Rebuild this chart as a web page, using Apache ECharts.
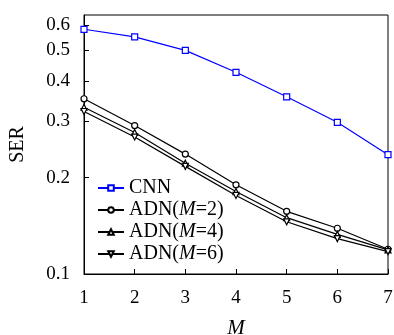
<!DOCTYPE html>
<html><head><meta charset="utf-8">
<script src="https://cdn.jsdelivr.net/npm/echarts@6/dist/echarts.min.js"></script>
<style>html,body{margin:0;padding:0;background:#fff}#c{width:394px;height:335px}</style>
</head><body><div id="c"></div>
<script>
var xValues = [1, 2, 3, 4, 5, 6, 7];
var cnn  = [0.582, 0.551, 0.500, 0.427, 0.358, 0.298, 0.236];
var adn2 = [0.353, 0.291, 0.237, 0.190, 0.157, 0.139, 0.1195];
var adn4 = [0.332, 0.277, 0.222, 0.181, 0.150, 0.133, 0.119];
var adn6 = [0.322, 0.268, 0.217, 0.176, 0.1456, 0.129, 0.1175];
var yTicks = [0.1, 0.2, 0.3, 0.4, 0.5, 0.6];
var names = ['CNN', 'ADN(M=2)', 'ADN(M=4)', 'ADN(M=6)'];

var font = 'Liberation Serif';
function pts(arr){ return arr.map(function(v,i){ return [xValues[i], v]; }); }
function mk(name, arr, color, symbol, rot){
  return {
    name: name, type: 'line', data: pts(arr),
    symbol: symbol, symbolSize: 6, symbolRotate: rot || 0,
    lineStyle: {color: color, width: 1.2},
    itemStyle: {color: '#fff', borderColor: color, borderWidth: 1.2},
    emphasis: {disabled: true}, animation: false
  };
}
var chart = echarts.init(document.getElementById('c'));
chart.setOption({
  animation: false,
  grid: {left: 84, right: 6, top: 15, bottom: 61, show: true, borderColor: '#000', borderWidth: 1,
         containLabel: false, outerBoundsMode: 'none'},
  xAxis: {
    type: 'value', min: 1, max: 7, interval: 1,
    name: 'M', nameLocation: 'middle', nameGap: 44,
    nameTextStyle: {fontFamily: font, fontSize: 21, fontStyle: 'italic', color: '#000'},
    axisLine: {lineStyle: {color: '#000'}},
    axisTick: {inside: true, length: 5, lineStyle: {color: '#000'}},
    axisLabel: {fontFamily: font, fontSize: 19, color: '#000', margin: 15},
    splitLine: {show: false}
  },
  yAxis: {
    type: 'log', logBase: 10, min: 0.1, max: 0.645,
    name: 'SER', nameLocation: 'middle', nameGap: 56, nameRotate: 90,
    nameTextStyle: {fontFamily: font, fontSize: 20, color: '#000'},
    axisLine: {lineStyle: {color: '#000'}},
    axisTick: {inside: true, length: 5, customValues: yTicks, lineStyle: {color: '#000'}},
    axisLabel: {fontFamily: font, fontSize: 19, color: '#000', margin: 14, customValues: yTicks,
      formatter: function(v){ return (Math.round(v*10)/10).toFixed(1); }},
    minorTick: {show: false},
    splitLine: {show: false}
  },
  legend: {
    orient: 'vertical', left: 92, top: 173, itemWidth: 26, itemHeight: 7, itemGap: 2,
    data: names,
    textStyle: {fontFamily: font, fontSize: 20, color: '#000',
      rich: {i: {fontFamily: font, fontSize: 20, fontStyle: 'italic', color: '#000'},
             n: {fontFamily: font, fontSize: 20, color: '#000'}}},
    formatter: function(n){
      var m = n.match(/^ADN\(M=(\d)\)$/);
      if (m) return '{n|ADN(}{i|M}{n|=' + m[1] + ')}';
      return n;
    }
  },
  series: [
    mk(names[0], cnn, '#0000ff', 'rect'),
    mk(names[1], adn2, '#000', 'circle'),
    mk(names[2], adn4, '#000', 'triangle'),
    mk(names[3], adn6, '#000', 'triangle', 180)
  ]
});
</script></body></html>
